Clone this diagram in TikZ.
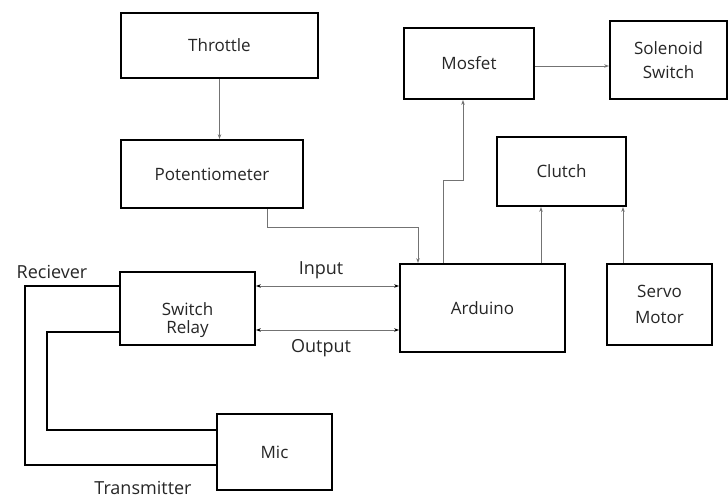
\documentclass[tikz,border=0pt]{standalone}
\usepackage{fontspec}
\setmainfont{Open Sans}
\usetikzlibrary{arrows.meta,calc}
\begin{document}
\begin{tikzpicture}[x=1pt,y=-1pt,
  box/.style={draw=black,line width=1.8pt,rectangle,inner sep=0pt,align=center,font=\fontsize{17}{20}\selectfont,text=black!85},
  thinbox/.style={draw=black,line width=1.1pt,rectangle,inner sep=0pt,align=center,font=\fontsize{17}{20}\selectfont,text=black!85},
  conn/.style={draw=black!55,line width=1pt,-{Stealth[length=5pt,width=3.5pt]}},
  biconn/.style={draw=black!55,line width=1pt,{Stealth[length=5pt,width=3.5pt,black]}-{Stealth[length=5pt,width=3.5pt,black]}},
  wire/.style={draw=black,line width=1.4pt},
  lbl/.style={font=\fontsize{18}{20}\selectfont,text=black!85,inner sep=0pt}]
\useasboundingbox[fill=white] (0,0) rectangle (728,498);

\node[box,minimum width=197,minimum height=65] (thr) at (219.5,45.5) {Throttle};
\node[box,minimum width=182,minimum height=68] (pot) at (212,174) {Potentiometer};
\node[box,minimum width=130,minimum height=71] (mos) at (469,63.5) {Mosfet};
\node[box,minimum width=117,minimum height=78] (sol) at (668.5,60) {Solenoid\\[4pt]Switch};
\node[box,minimum width=129,minimum height=69] (clu) at (561.5,171.5) {Clutch};
\node[box,minimum width=165,minimum height=88] (ard) at (482.5,308) {Arduino};
\node[box,minimum width=105,minimum height=81] (ser) at (659.5,304.5) {Servo\\[6pt]Motor};
\node[box,minimum width=135,minimum height=73] (rel) at (187.5,308.5) {\raisebox{-12pt}[\height][\depth]{\shortstack{Switch\\[2pt]Relay}}};
\node[thinbox,minimum width=115,minimum height=76] (mic) at (274.5,452) {Mic};

\node[lbl] (inl) at (321,270) {Input};
\node[lbl] (outl) at (321,348) {Output};
\node[lbl] (recl) at (52,272) {Reciever};
\node[lbl] (trl) at (143,488) {Transmitter};

% connectors
\draw[conn] (thr.south) -- (thr.south |- pot.north);
\coordinate (potOut) at ($(pot.south)+(55,0)$);
\coordinate (ardIn) at ($(ard.north)+(-64.5,0)$);
\draw[conn] (potOut) -- ++(0,19) -| (ardIn);
\coordinate (ardMos) at ($(ard.north)+(-39.5,0)$);
\coordinate (mosIn) at ($(mos.south)+(-6,0)$);
\draw[conn] (ardMos) -- ++(0,-83) -| (mosIn);
\coordinate (mosOut) at ($(mos.east)+(0,2.5)$);
\draw[conn] (mosOut) -- (mosOut -| sol.west);
\coordinate (ardClu) at ($(ard.north)+(58.5,0)$);
\draw[conn] (ardClu) -- (ardClu |- clu.south);
\coordinate (serClu) at ($(ser.north)+(-36.5,0)$);
\draw[conn] (serClu) -- (serClu |- clu.south);
\coordinate (inL) at ($(rel.east)+(0,-22.5)$);
\draw[biconn] (inL) -- (inL -| ard.west);
\coordinate (outL) at ($(rel.east)+(0,21.5)$);
\draw[biconn] (outL) -- (outL -| ard.west);
% receiver / transmitter wires
\coordinate (recA) at ($(rel.west)+(0,-22.5)$);
\coordinate (micA) at ($(mic.west)+(0,13)$);
\draw[wire] (recA) -- (25,286) -- (25,465) -- (micA);
\coordinate (recB) at ($(rel.west)+(0,23.5)$);
\coordinate (micB) at ($(mic.west)+(0,-22)$);
\draw[wire] (recB) -- (47,332) -- (47,430) -- (micB);
\end{tikzpicture}
\end{document}
